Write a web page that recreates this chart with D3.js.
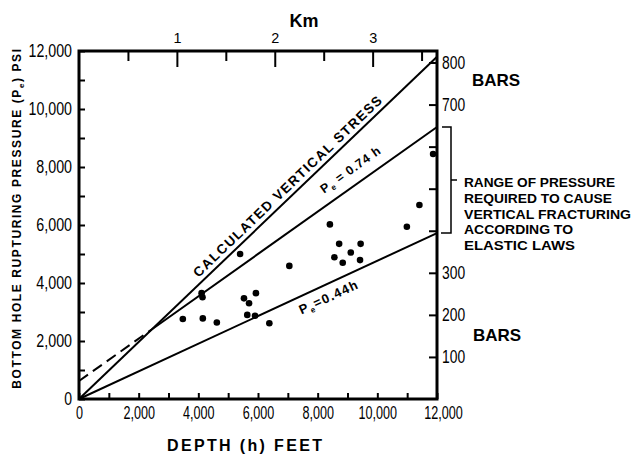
<!DOCTYPE html>
<html><head><meta charset="utf-8">
<script src="https://cdn.jsdelivr.net/npm/d3@7"></script>
<style>body{margin:0;background:#fff} svg{display:block}</style>
</head><body>
<svg id="c" width="631" height="454"></svg>
<script>
// ---- data ----
const depthFt     = [3480, 4110, 4140, 4150, 4620, 5400, 5530, 5700, 5640, 5900, 5930, 6380, 7050, 8410, 8560, 8720, 8840, 9110, 9420, 9440, 10990, 11410, 11870];
const pressurePsi = [2760, 3650, 3510, 2780, 2640, 5000, 3470, 3300, 2900, 2870, 3650, 2610, 4590, 6020, 4890, 5350, 4700, 5050, 4790, 5350, 5940, 6690, 8450];
const lineDepths  = [0, 12000];
const stressPsi   = [0, 11800];   // calculated vertical stress
const grad074Psi  = [620, 9380];  // Pe = 0.74 h
const grad044Psi  = [0, 5720];    // Pe = 0.44 h
const xTickLabels = ["0", "2,000", "4,000", "6,000", "8,000", "10,000", "12,000"];
const yTickLabels = ["0", "2,000", "4,000", "6,000", "8,000", "10,000", "12,000"];
const kmLabels    = [1, 2, 3];
const barLabels   = [100, 200, 300, 700, 800];
const noteLines   = ["RANGE OF PRESSURE", "REQUIRED TO CAUSE", "VERTICAL FRACTURING", "ACCORDING TO", "ELASTIC LAWS"];

// ---- scales ----
const FT_PER_KM = 3280.84, PSI_PER_BAR = 14.5038;
const x = d3.scaleLinear().domain([0, 12000]).range([79, 437]);
const y = d3.scaleLinear().domain([0, 12000]).range([399, 51]);
const xKm = d3.scaleLinear().domain([0, 12000 / FT_PER_KM]).range([79, 437]);
const yBar = d3.scaleLinear().domain([0, 12000 / PSI_PER_BAR]).range([399, 51]);

const svg = d3.select("#c");
const TXT = "'Liberation Sans','DejaVu Sans',sans-serif";

// ---- lines ----
const line = d3.line().x(d => x(d[0])).y(d => y(d[1]));
const slopeS = (stressPsi[1] - stressPsi[0]) / (lineDepths[1] - lineDepths[0]);
const slope74 = (grad074Psi[1] - grad074Psi[0]) / (lineDepths[1] - lineDepths[0]);
const cross = (grad074Psi[0] - stressPsi[0]) / (slopeS - slope74);
const at74 = h => grad074Psi[0] + slope74 * h;

const g = svg.append("g").attr("fill", "none").attr("stroke", "#000").attr("stroke-width", 2);
g.append("path").attr("d", line([[lineDepths[0], stressPsi[0]], [lineDepths[1], stressPsi[1]]]));
g.append("path").attr("d", line([[lineDepths[0], grad044Psi[0]], [lineDepths[1], grad044Psi[1]]]));
g.append("path").attr("d", line([[cross, at74(cross)], [lineDepths[1], grad074Psi[1]]]));
g.append("path").attr("stroke-dasharray", "11,6").attr("d", line([[lineDepths[0], grad074Psi[0]], [cross, at74(cross)]]));

// ---- points ----
svg.append("g").selectAll("circle").data(depthFt).join("circle")
  .attr("cx", d => x(d)).attr("cy", (d, i) => y(pressurePsi[i])).attr("r", 3.3).attr("fill", "#000");

// ---- line labels ----
function lineLabel(h, psiFn, off, build, fs, ls) {
  const px = x(h), py = y(psiFn(h));
  const dx = x(h + 1000) - x(h), dy = y(psiFn(h + 1000)) - y(psiFn(h));
  const ang = Math.atan2(dy, dx) * 180 / Math.PI;
  const t = svg.append("text").attr("transform", `translate(${px},${py}) rotate(${ang})`)
    .attr("y", off).attr("text-anchor", "middle").attr("font-family", TXT)
    .attr("font-weight", "bold").attr("font-size", fs).attr("letter-spacing", ls);
  build(t);
}
lineLabel(7227, h => slopeS * h, -5, t => t.text("CALCULATED VERTICAL STRESS"), 13.5, 1.4);
lineLabel(9400, at74, -11, t => {
  t.append("tspan").text("P");
  t.append("tspan").attr("font-size", 8).attr("dy", 3).text("e");
  t.append("tspan").attr("dy", -3).text(" = 0.74 h");
}, 12.5, 0.8);
lineLabel(8200, h => grad044Psi[0] + (grad044Psi[1] - grad044Psi[0]) / 12000 * h, 17, t => {
  t.append("tspan").text("P");
  t.append("tspan").attr("font-size", 8).attr("dy", 3).text("e");
  t.append("tspan").attr("dy", -3).text("=0.44h");
}, 13, 1.3);

// ---- axes ----
// narrow numeric labels: fit each label into a condensed width (digit width, comma width)
function style(sel, fs, digitW, commaW) {
  sel.select(".domain").remove();
  sel.selectAll("line").attr("stroke", "#000").attr("stroke-width", 2);
  sel.selectAll("text").attr("font-family", TXT).attr("font-size", fs).attr("fill", "#000")
    .each(function () {
      const s = this.textContent;
      if (!s) return;
      const n = s.replace(/,/g, "").length, c = s.length - n;
      d3.select(this).attr("textLength", n * digitW + c * commaW).attr("lengthAdjust", "spacingAndGlyphs");
    });
}
const thousands = d3.range(0, 12001, 1000);
svg.append("g").attr("transform", "translate(0,399)")
  .call(d3.axisBottom(x).tickValues(thousands).tickSizeInner(-6).tickSizeOuter(0).tickPadding(7)
    .tickFormat(d => d % 2000 === 0 ? xTickLabels[d / 2000] : ""))
  .call(s => style(s, 18, 7, 3.5))
  .call(s => s.selectAll("text").filter(d => d === 12000).attr("dx", 6));

svg.append("g").attr("transform", "translate(79,0)")
  .call(d3.axisLeft(y).tickValues(thousands).tickSizeInner(-6).tickSizeOuter(0).tickPadding(7)
    .tickFormat(d => d % 2000 === 0 ? yTickLabels[d / 2000] : ""))
  .call(s => style(s, 18, 7.8, 4.5));

svg.append("g").attr("transform", "translate(0,51)")
  .call(d3.axisTop(xKm).tickValues([0.5, 1.5, 2.5, 3.5]).tickSizeInner(-10).tickSizeOuter(0).tickFormat(""))
  .call(s => style(s, 14, 7, 3));
svg.append("g").attr("transform", "translate(0,51)")
  .call(d3.axisTop(xKm).tickValues(kmLabels).tickSizeInner(-16).tickSizeOuter(0).tickPadding(8).tickFormat(d3.format("d")))
  .call(s => style(s, 15, 8, 3));

svg.append("g").attr("transform", "translate(437,0)")
  .call(d3.axisRight(yBar).tickValues(d3.range(100, 801, 100)).tickSizeInner(-8).tickSizeOuter(0).tickPadding(5)
    .tickFormat(d => barLabels.includes(d) ? d : ""))
  .call(s => style(s, 17.5, 7.7, 3));

// frame
svg.append("rect").attr("x", x(0)).attr("y", y(12000)).attr("width", x(12000) - x(0)).attr("height", y(0) - y(12000))
  .attr("fill", "none").attr("stroke", "#000").attr("stroke-width", 3);

// ---- titles ----
svg.append("text").attr("x", 304).attr("y", 27).attr("text-anchor", "middle").attr("font-family", TXT)
  .attr("font-size", 18).attr("font-weight", "bold").text("Km");
svg.append("text").attr("x", 472).attr("y", 86).attr("font-family", TXT).attr("font-size", 17).attr("font-weight", "bold").text("BARS");
svg.append("text").attr("x", 473).attr("y", 341).attr("font-family", TXT).attr("font-size", 17).attr("font-weight", "bold").text("BARS");
svg.append("text").attr("x", 167).attr("y", 451).attr("font-family", TXT).attr("font-size", 16).attr("font-weight", "bold")
  .attr("textLength", 155).attr("lengthAdjust", "spacing").text("DEPTH (h) FEET");

const yt = svg.append("text").attr("transform", "translate(21,218) rotate(-90)").attr("text-anchor", "middle")
  .attr("font-family", TXT).attr("font-size", 12).attr("font-weight", "bold").attr("letter-spacing", 1.6);
yt.append("tspan").text("BOTTOM HOLE RUPTURING PRESSURE (P");
yt.append("tspan").attr("font-size", 8).attr("dy", 3).text("e");
yt.append("tspan").attr("dy", -3).text(") PSI");

// ---- bracket & note ----
const yTop = y(grad074Psi[1]), yBot = y(grad044Psi[1]);
svg.append("path").attr("fill", "none").attr("stroke", "#000").attr("stroke-width", 1.5)
  .attr("d", `M442,${yTop}H451V${yBot}H441M451,${(yTop + yBot) / 2}H457`);
const noteW = [151, 148, 167, 109, 111];
svg.append("g").selectAll("text").data(noteLines).join("text")
  .attr("x", 464).attr("y", (d, i) => 187 + i * 15.8)
  .attr("font-family", TXT).attr("font-size", 13).attr("font-weight", "bold")
  .attr("textLength", (d, i) => noteW[i]).attr("lengthAdjust", "spacingAndGlyphs").text(d => d);
</script>
</body></html>
